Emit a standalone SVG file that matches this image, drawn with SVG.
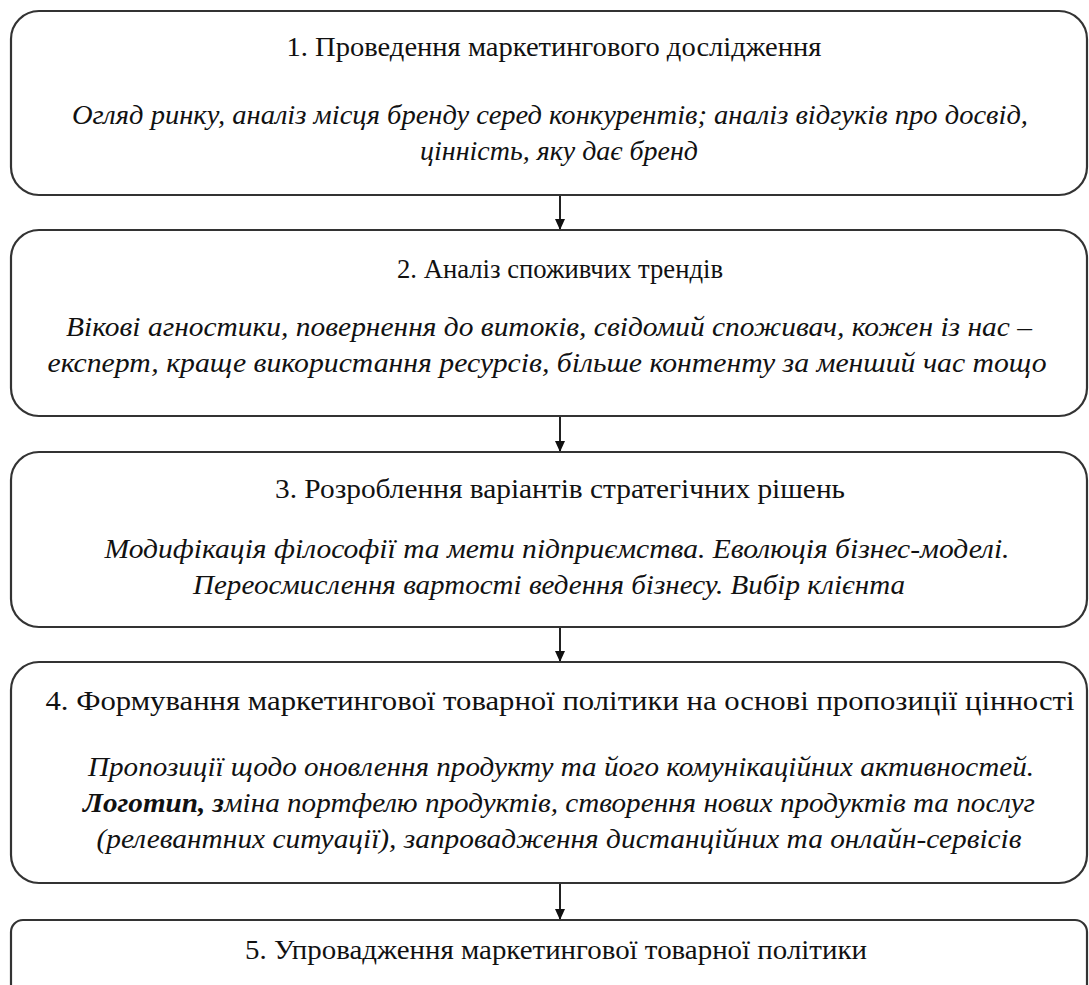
<svg xmlns="http://www.w3.org/2000/svg" width="1089" height="985" viewBox="0 0 1089 985">
<style>
.box{fill:#fff;stroke:#333;stroke-width:2.2}
.t{font-family:"Liberation Serif","Times New Roman",serif;font-size:28px;fill:#111;text-anchor:middle}
.i{font-family:"Liberation Serif","DejaVu Serif","Times New Roman",serif;font-size:28px;font-style:italic;fill:#111;text-anchor:middle}
.b{font-weight:bold}
.c{stroke:#222;stroke-width:2;fill:none;marker-end:url(#ah)}
</style>
<defs>
<marker id="ah" markerWidth="12" markerHeight="10" refX="11" refY="5" orient="auto" markerUnits="userSpaceOnUse">
<path d="M0,0 L11,5 L0,10 Z" fill="#111"/>
</marker>
</defs>
<rect width="1089" height="985" fill="#fff"/>
<g id="connectors">
<line class="c" x1="560" y1="195" x2="560" y2="230"/>
<line class="c" x1="560" y1="416" x2="560" y2="452"/>
<line class="c" x1="560" y1="627" x2="560" y2="662"/>
<line class="c" x1="560" y1="883" x2="560" y2="920"/>
</g>
<g id="node1">
<rect class="box" x="11" y="11" width="1076" height="184" rx="28"/>
<text class="t" x="554" y="56" textLength="535" lengthAdjust="spacingAndGlyphs">1. Проведення маркетингового дослідження</text>
<text class="i" x="550" y="124" textLength="956" lengthAdjust="spacingAndGlyphs">Огляд ринку, аналіз місця бренду серед конкурентів; аналіз відгуків про досвід,</text>
<text class="i" x="559" y="160" textLength="278" lengthAdjust="spacingAndGlyphs">цінність, яку дає бренд</text>
</g>
<g id="node2">
<rect class="box" x="11" y="230" width="1076" height="186" rx="28"/>
<text class="t" x="560" y="278" textLength="326" lengthAdjust="spacingAndGlyphs">2. Аналіз споживчих трендів</text>
<text class="i" x="549" y="336" textLength="966" lengthAdjust="spacingAndGlyphs">Вікові агностики, повернення до витоків, свідомий споживач, кожен із нас –</text>
<text class="i" x="547" y="372" textLength="999" lengthAdjust="spacingAndGlyphs">експерт, краще використання ресурсів, більше контенту за менший час тощо</text>
</g>
<g id="node3">
<rect class="box" x="11" y="452" width="1076" height="175" rx="28"/>
<text class="t" x="560" y="498" textLength="570" lengthAdjust="spacingAndGlyphs">3. Розроблення варіантів стратегічних рішень</text>
<text class="i" x="557" y="558" textLength="905" lengthAdjust="spacingAndGlyphs">Модифікація філософії та мети підприємства. Еволюція бізнес-моделі.</text>
<text class="i" x="549" y="594" textLength="712" lengthAdjust="spacingAndGlyphs">Переосмислення вартості ведення бізнесу. Вибір клієнта</text>
</g>
<g id="node4">
<rect class="box" x="11" y="662" width="1076" height="221" rx="28"/>
<text class="t" x="560" y="710" textLength="1029" lengthAdjust="spacingAndGlyphs">4. Формування маркетингової товарної політики на основі пропозиції цінності</text>
<text class="i" x="561" y="776" textLength="946" lengthAdjust="spacingAndGlyphs">Пропозиції щодо оновлення продукту та його комунікаційних активностей.</text>
<text class="i" x="559" y="812" textLength="952" lengthAdjust="spacingAndGlyphs"><tspan class="b">Логотип, з</tspan>міна портфелю продуктів, створення нових продуктів та послуг</text>
<text class="i" x="559" y="848" textLength="925" lengthAdjust="spacingAndGlyphs">(релевантних ситуації), запровадження дистанційних та онлайн-сервісів</text>
</g>
<g id="node5">
<rect class="box" x="11" y="920" width="1076" height="80" rx="12"/>
<text class="t" x="556" y="959" textLength="622" lengthAdjust="spacingAndGlyphs">5. Упровадження маркетингової товарної політики</text>
</g>
</svg>
